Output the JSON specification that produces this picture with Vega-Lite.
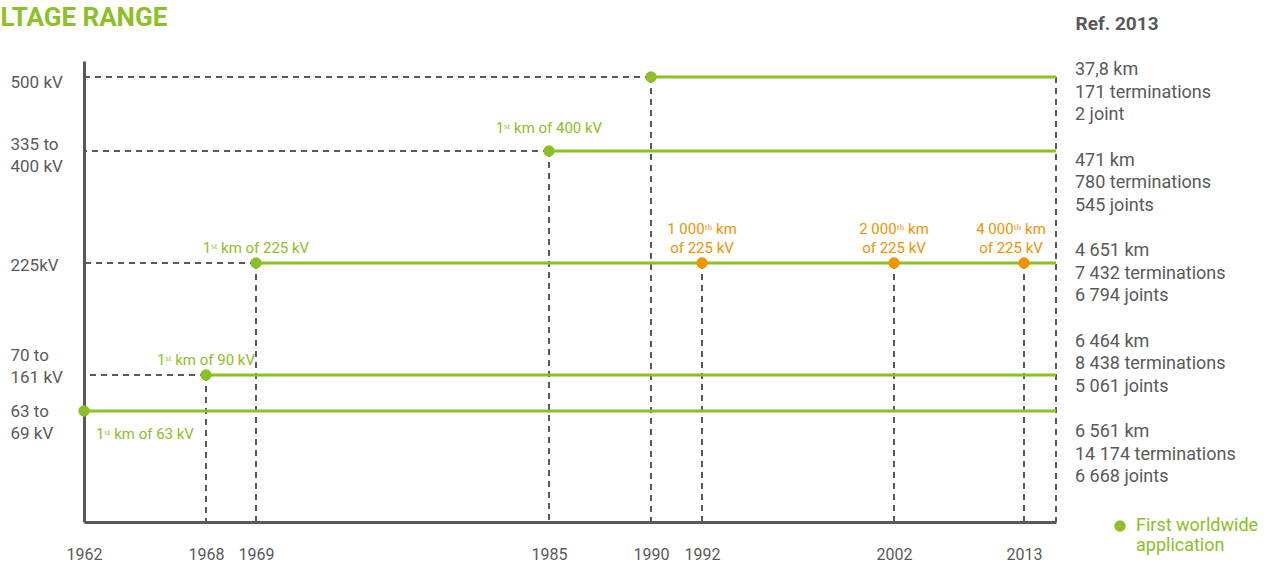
{
  "$schema": "https://vega.github.io/schema/vega-lite/v6.json",
  "width": 972,
  "height": 461,
  "autosize": "none",
  "padding": {"left": 84, "top": 61, "right": 217, "bottom": 40},
  "background": "white",
  "config": {"view": {"stroke": null}, "font": "Roboto"},
  "datasets": {
    "events": [
      {"year": 1962, "kV": 69, "kind": "First worldwide application", "label": "1ˢᵗ km of 63 kV"},
      {"year": 1968, "kV": 161, "kind": "First worldwide application", "label": "1ˢᵗ km of 90 kV"},
      {"year": 1969, "kV": 225, "kind": "First worldwide application", "label": "1ˢᵗ km of 225 kV"},
      {"year": 1985, "kV": 400, "kind": "First worldwide application", "label": "1ˢᵗ km of 400 kV"},
      {"year": 1990, "kV": 500, "kind": "First worldwide application", "label": ""},
      {"year": 1992, "kV": 225, "kind": "Milestone", "label": "1 000ᵗʰ km\nof 225 kV"},
      {"year": 2002, "kV": 225, "kind": "Milestone", "label": "2 000ᵗʰ km\nof 225 kV"},
      {"year": 2013, "kV": 225, "kind": "Milestone", "label": "4 000ᵗʰ km\nof 225 kV"}
    ],
    "ref": [
      {"level": "500 kV", "stats": "37,8 km\n171 terminations\n2 joint"},
      {"level": "335 to 400 kV", "stats": "471 km\n780 terminations\n545 joints"},
      {"level": "225 kV", "stats": "4 651 km\n7 432 terminations\n6 794 joints"},
      {"level": "70 to 161 kV", "stats": "6 464 km\n8 438 terminations\n5 061 joints"},
      {"level": "63 to 69 kV", "stats": "6 561 km\n14 174 terminations\n6 668 joints"}
    ]
  },
  "layer": [
    {
      "data": {"name": "events"},
      "layer": [
        {
          "transform": [{"filter": "datum.year != 1962"}],
          "mark": {"type": "rule", "color": "#595959", "strokeWidth": 2, "strokeDash": [6, 5]},
          "encoding": {
            "x": {
              "field": "year", "type": "quantitative",
              "scale": {"type": "linear", "domain": [1962, 1968, 1969, 1985, 1990, 1992, 2002, 2013, 2015], "range": [0, 122, 172, 465, 567, 618, 810, 940, 972], "nice": false, "zero": false},
              "axis": {"values": [1962, 1968, 1969, 1985, 1990, 1992, 2002, 2013], "format": "d", "title": null, "grid": false, "ticks": false, "tickSize": 0, "labelFlush": false, "labelOverlap": false, "labelPadding": 37, "labelBaseline": "alphabetic", "labelFontSize": 16, "labelColor": "#595959", "domainColor": "#595959", "domainWidth": 3}
            },
            "y": {
              "field": "kV", "type": "quantitative",
              "scale": {"type": "linear", "domain": [0, 69, 161, 225, 400, 500, 540], "range": [461, 350, 314, 202, 90, 16, 0], "nice": false, "zero": false},
              "axis": {"values": [500, 400, 225, 161, 69], "grid": false, "ticks": false, "tickSize": 0, "labelAlign": "left", "labelPadding": 74, "labelBaseline": "middle", "labelFontSize": 17, "labelColor": "#595959", "labelLineHeight": 22, "labelOverlap": false, "labelFlush": false,
                "labelExpr": "datum.value == 500 ? '500 kV' : datum.value == 400 ? ['335 to', '400 kV'] : datum.value == 225 ? '225kV' : datum.value == 161 ? ['70 to', '161 kV'] : ['63 to', '69 kV']",
                "labelOffset": {"condition": [{"test": "datum.value == 500", "value": 5}, {"test": "datum.value == 400", "value": -7}, {"test": "datum.value == 225", "value": 2}, {"test": "datum.value == 161", "value": -20}], "value": 0},
                "title": "LTAGE RANGE", "titleAngle": 0, "titleAlign": "left", "titleBaseline": "alphabetic", "titleX": -84, "titleY": -36, "titleFontSize": 26, "titleFontWeight": "bold", "titleColor": "#8cc027",
                "domainColor": "#595959", "domainWidth": 3}
            },
            "y2": {"datum": 0}
          }
        },
        {
          "transform": [{"filter": "datum.kind == 'First worldwide application' && datum.year != 1962"}],
          "mark": {"type": "rule", "color": "#595959", "strokeWidth": 2, "strokeDash": [6, 5]},
          "encoding": {
            "x": {"field": "year", "type": "quantitative"},
            "x2": {"datum": 1962},
            "y": {"field": "kV", "type": "quantitative"}
          }
        },
        {
          "transform": [{"filter": "datum.year == 1990"}],
          "mark": {"type": "rule", "color": "#595959", "strokeWidth": 2, "strokeDash": [6, 5]},
          "encoding": {
            "x": {"datum": 2015, "type": "quantitative"},
            "y": {"field": "kV", "type": "quantitative"},
            "y2": {"datum": 0}
          }
        },
        {
          "transform": [{"filter": "datum.kind == 'First worldwide application'"}],
          "mark": {"type": "rule", "color": "#8cc027", "strokeWidth": 3},
          "encoding": {
            "x": {"field": "year", "type": "quantitative"},
            "x2": {"datum": 2015},
            "y": {"field": "kV", "type": "quantitative"}
          }
        },
        {
          "mark": {"type": "point", "filled": true, "size": 130, "opacity": 1, "shape": "circle"},
          "encoding": {
            "x": {"field": "year", "type": "quantitative"},
            "y": {"field": "kV", "type": "quantitative"},
            "color": {
              "field": "kind", "type": "nominal",
              "scale": {"domain": ["First worldwide application", "Milestone"], "range": ["#8cc027", "#f39200"]},
              "legend": {"orient": "none", "legendX": 1027, "legendY": 456, "values": ["First worldwide application"], "title": null, "labelExpr": "['First worldwide', 'application']", "labelFontSize": 18, "labelColor": "#8cc027", "labelLineHeight": 21, "symbolSize": 130, "symbolType": "circle", "symbolOpacity": 1, "labelOffset": 7, "padding": 0, "labelBaseline": "middle"}
            }
          }
        },
        {
          "transform": [{"filter": {"field": "year", "oneOf": [1968, 1969]}}],
          "mark": {"type": "text", "align": "center", "baseline": "middle", "dy": -15, "fontSize": 15, "color": "#8cc027"},
          "encoding": {
            "x": {"field": "year", "type": "quantitative"},
            "y": {"field": "kV", "type": "quantitative"},
            "text": {"field": "label"}
          }
        },
        {
          "transform": [{"filter": "datum.year == 1985"}],
          "mark": {"type": "text", "align": "center", "baseline": "middle", "dy": -23, "fontSize": 15, "color": "#8cc027"},
          "encoding": {
            "x": {"field": "year", "type": "quantitative"},
            "y": {"field": "kV", "type": "quantitative"},
            "text": {"field": "label"}
          }
        },
        {
          "transform": [{"filter": "datum.year == 1962"}],
          "mark": {"type": "text", "align": "left", "baseline": "middle", "dx": 12, "dy": 23, "fontSize": 15, "color": "#8cc027"},
          "encoding": {
            "x": {"field": "year", "type": "quantitative"},
            "y": {"field": "kV", "type": "quantitative"},
            "text": {"field": "label"}
          }
        },
        {
          "transform": [{"filter": {"field": "year", "oneOf": [1992, 2002]}}],
          "mark": {"type": "text", "align": "center", "baseline": "middle", "dy": -34, "fontSize": 15, "lineBreak": "\n", "lineHeight": 19, "color": "#f39200"},
          "encoding": {
            "x": {"field": "year", "type": "quantitative"},
            "y": {"field": "kV", "type": "quantitative"},
            "text": {"field": "label"}
          }
        },
        {
          "transform": [{"filter": "datum.year == 2013"}],
          "mark": {"type": "text", "align": "center", "baseline": "middle", "dx": -13, "dy": -34, "fontSize": 15, "lineBreak": "\n", "lineHeight": 19, "color": "#f39200"},
          "encoding": {
            "x": {"field": "year", "type": "quantitative"},
            "y": {"field": "kV", "type": "quantitative"},
            "text": {"field": "label"}
          }
        }
      ]
    },
    {
      "data": {"name": "ref"},
      "mark": {"type": "text", "align": "left", "baseline": "middle", "dx": 19, "fontSize": 18, "lineBreak": "\n", "lineHeight": 22.5, "color": "#595959"},
      "encoding": {
        "x": {"datum": 2015, "type": "quantitative"},
        "y": {
          "field": "level", "type": "nominal",
          "scale": {"type": "point", "domain": ["500 kV", "335 to 400 kV", "225 kV", "70 to 161 kV", "63 to 69 kV"], "padding": 0.547, "align": 0.091},
          "axis": {"orient": "right", "labels": false, "ticks": false, "domain": false, "grid": false, "title": "Ref. 2013", "titleAngle": 0, "titleAlign": "left", "titleBaseline": "alphabetic", "titleX": 19, "titleY": -32, "titleFontSize": 19, "titleFontWeight": "bold", "titleColor": "#595959"}
        },
        "text": {"field": "stats"}
      }
    }
  ],
  "resolve": {"scale": {"y": "independent"}, "axis": {"y": "independent"}}
}
